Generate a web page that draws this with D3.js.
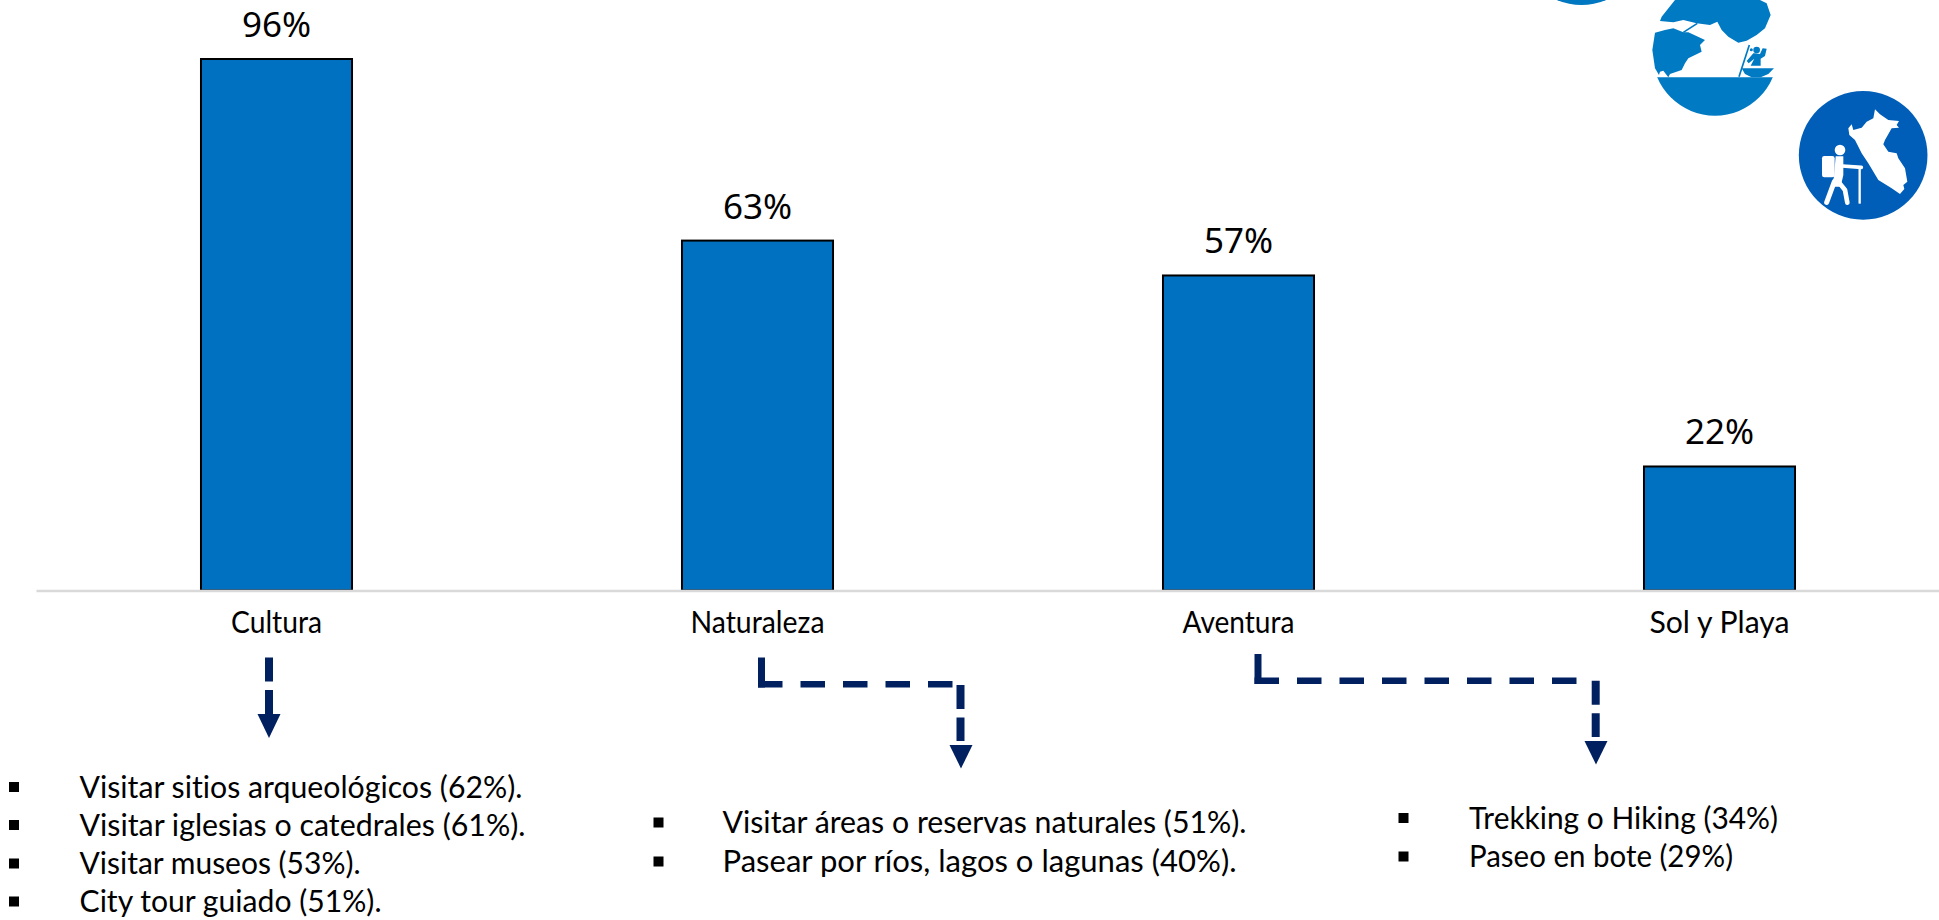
<!DOCTYPE html>
<html><head><meta charset="utf-8">
<script src="https://cdnjs.cloudflare.com/ajax/libs/d3/7.8.5/d3.min.js"></script>
<style>html,body{margin:0;padding:0;background:#fff;overflow:hidden}svg{display:block}text{font-variant-ligatures:none}</style>
</head><body><svg id="c" width="1939" height="920" xmlns="http://www.w3.org/2000/svg"></svg>
<script>
// DATA
const categories = ["Cultura","Naturaleza","Aventura","Sol y Playa"];
const shares = [96,63.2,56.9,22.4];
const culturaItems = ["Visitar sitios arqueológicos (62%).","Visitar iglesias o catedrales (61%).","Visitar museos (53%).","City tour guiado (51%)."];
const naturalezaItems = ["Visitar áreas o reservas naturales (51%).","Pasear por ríos, lagos o lagunas (40%)."];
const aventuraItems = ["Trekking o Hiking (34%)","Paseo en bote (29%)"];

// LAYOUT
const W=1939,H=920,barBlue="#0070c0",navy="#002060";
const bodyFont="Lato, 'Noto Sans', sans-serif", labelFont="'Noto Sans', sans-serif";
const svg=d3.select("#c");
const x=d3.scaleBand().domain(categories).range([36,1960]).paddingInner(0.686).paddingOuter(0.343);
const y=d3.scaleLinear().domain([0,96]).range([590.5,59]);

// bars
svg.append("g").selectAll("rect").data(categories).join("rect")
  .attr("x",d=>x(d)).attr("width",x.bandwidth())
  .attr("y",(d,i)=>y(shares[i])).attr("height",(d,i)=>y(0)-y(shares[i]))
  .attr("fill",barBlue).attr("stroke","#000").attr("stroke-width",2);

// axis
const ax=svg.append("g").attr("transform",`translate(0,${y(0)})`).call(d3.axisBottom(x).tickSize(0).tickPadding(0));
ax.select(".domain").attr("stroke","#d9d9d9").attr("stroke-width",2.4);
const catWidths=[91,134,112,140];
ax.selectAll("text").attr("y",42).attr("dy",0)
  .attr("font-family",bodyFont).attr("font-size",30).attr("fill","#000").attr("text-anchor","middle")
  .attr("textLength",(d,i)=>catWidths[i]).attr("lengthAdjust","spacingAndGlyphs");

// data labels
svg.append("g").selectAll("text").data(categories).join("text")
  .attr("x",d=>x(d)+x.bandwidth()/2).attr("y",(d,i)=>y(shares[i])-22)
  .attr("text-anchor","middle").attr("font-family",labelFont).attr("font-size",35).attr("fill","#000")
  .text((d,i)=>Math.round(shares[i])+"%");

// lists
const lists=[
 {items:culturaItems,textX:79.5,bullet:9,base:[797.5,835.5,874,912],widths:[443,446,281,302]},
 {items:naturalezaItems,textX:722.5,bullet:653.5,base:[833,872],widths:[524,514]},
 {items:aventuraItems,textX:1469,bullet:1398.5,base:[828.5,867],widths:[309,264]}
];
lists.forEach(l=>{
  const g=svg.append("g");
  g.selectAll("text").data(l.items).join("text")
   .attr("x",l.textX).attr("y",(d,i)=>l.base[i]).attr("font-family",bodyFont).attr("font-size",31).attr("fill","#000")
   .attr("textLength",(d,i)=>l.widths[i]).attr("lengthAdjust","spacingAndGlyphs").text(d=>d);
  g.selectAll("rect").data(l.items).join("rect")
   .attr("x",l.bullet).attr("width",10).attr("height",10).attr("y",(d,i)=>l.base[i]-15.5).attr("fill","#000");
});

// connectors
const conn=svg.append("g").attr("fill","none").attr("stroke",navy);
function seg(x1,y1,x2,y2,w,dash){conn.append("line").attr("x1",x1).attr("y1",y1).attr("x2",x2).attr("y2",y2).attr("stroke-width",w).attr("stroke-dasharray",dash||null);}
function head(cx,top,tip,hw){svg.append("path").attr("d",d3.line()([[cx-hw,top],[cx+hw,top],[cx,tip]])+"Z").attr("fill",navy);}
seg(269,657.5,269,714,8,"24 8.5"); head(269,714,738,11.5);
seg(761.5,657.5,761.5,687.5,7);
seg(758,684.3,955,684.3,6.5,"24.5 18");
seg(960.5,685,960.5,741,8,"24 8.5"); head(961,745,768.5,11.5);
seg(1258,654,1258,684,7);
seg(1254.5,680.7,1578,680.7,6.5,"24.5 18");
seg(1595.7,680.7,1595.7,737,8,"24 8.5"); head(1596,741,764.5,11.5);

// icons
const ico1="#0078c1", ico2="#007ac3", ico3="#005eb8";
svg.append("circle").attr("cx",1581.5).attr("cy",-58).attr("r",63).attr("fill",ico1);

const defs=svg.append("defs");
defs.append("clipPath").attr("id","hz").append("rect").attr("x",0).attr("y",232).attr("width",450).attr("height",130);
const b=svg.append("g").attr("transform","translate(1640,0) scale(0.3333)").attr("fill",ico2);
const poly=(g,p)=>g.append("polygon").attr("points",p);
b.append("circle").attr("cx",225).attr("cy",159).attr("r",188).attr("clip-path","url(#hz)");
poly(b,"105,0 65,50 60,63 100,67 130,60 170,70 210,75 232,65 245,90 265,110 295,128 320,122 350,105 375,85 392,45 380,10 360,0");
poly(b,"45,98 75,90 100,85 130,97 145,97 195,120 180,135 185,155 145,175 135,190 125,210 90,222 85,232 70,212 60,215 57,225 45,205 37,150");
b.append("line").attr("x1",130).attr("y1",97).attr("x2",172).attr("y2",70).attr("stroke",ico2).attr("stroke-width",5);
poly(b,"305,205 402,205 385,222 362,232 335,232 315,222");
b.append("line").attr("x1",328).attr("y1",135).attr("x2",297).attr("y2",230).attr("stroke",ico2).attr("stroke-width",5);
b.append("circle").attr("cx",350).attr("cy",150).attr("r",10);
b.append("circle").attr("cx",334).attr("cy",149).attr("r",4.5);
poly(b,"345,160 360,162 368,145 380,146 375,168 362,176 362,197 332,197 343,176 326,190 320,183 340,160");

const p=svg.append("g").attr("transform","translate(1790,85) scale(0.3333)");
p.append("circle").attr("cx",219.5).attr("cy",211).attr("r",193).attr("fill",ico3);
const pw=p.append("g").attr("fill","#fff").attr("stroke","none");
poly(pw,"255,73 270,88 295,105 327,108 320,120 327,128 305,130 285,165 280,178 295,200 320,205 325,220 345,250 352,290 340,300 343,312 330,327 305,310 265,285 235,235 215,205 195,165 178,150 175,130 185,118 190,135 215,128 230,110 250,100");
pw.append("circle").attr("cx",150).attr("cy",195).attr("r",16);
pw.append("rect").attr("x",96).attr("y",213).attr("width",38).attr("height",64).attr("rx",7);
poly(pw,"137,214 160,214 160,270 152,305 124,305 132,275");
const st=p.append("g").attr("stroke","#fff").attr("stroke-linecap","round").attr("fill","none");
st.append("line").attr("x1",157).attr("y1",243).attr("x2",214).attr("y2",247).attr("stroke-width",11);
st.append("line").attr("x1",209).attr("y1",250).attr("x2",209).attr("y2",356).attr("stroke-width",7).attr("stroke-linecap","butt");
st.append("line").attr("x1",133).attr("y1",290).attr("x2",110).attr("y2",352).attr("stroke-width",15);
st.append("polyline").attr("points","145,290 165,315 172,353").attr("stroke-width",14).attr("stroke-linejoin","round");
</script></body></html>
